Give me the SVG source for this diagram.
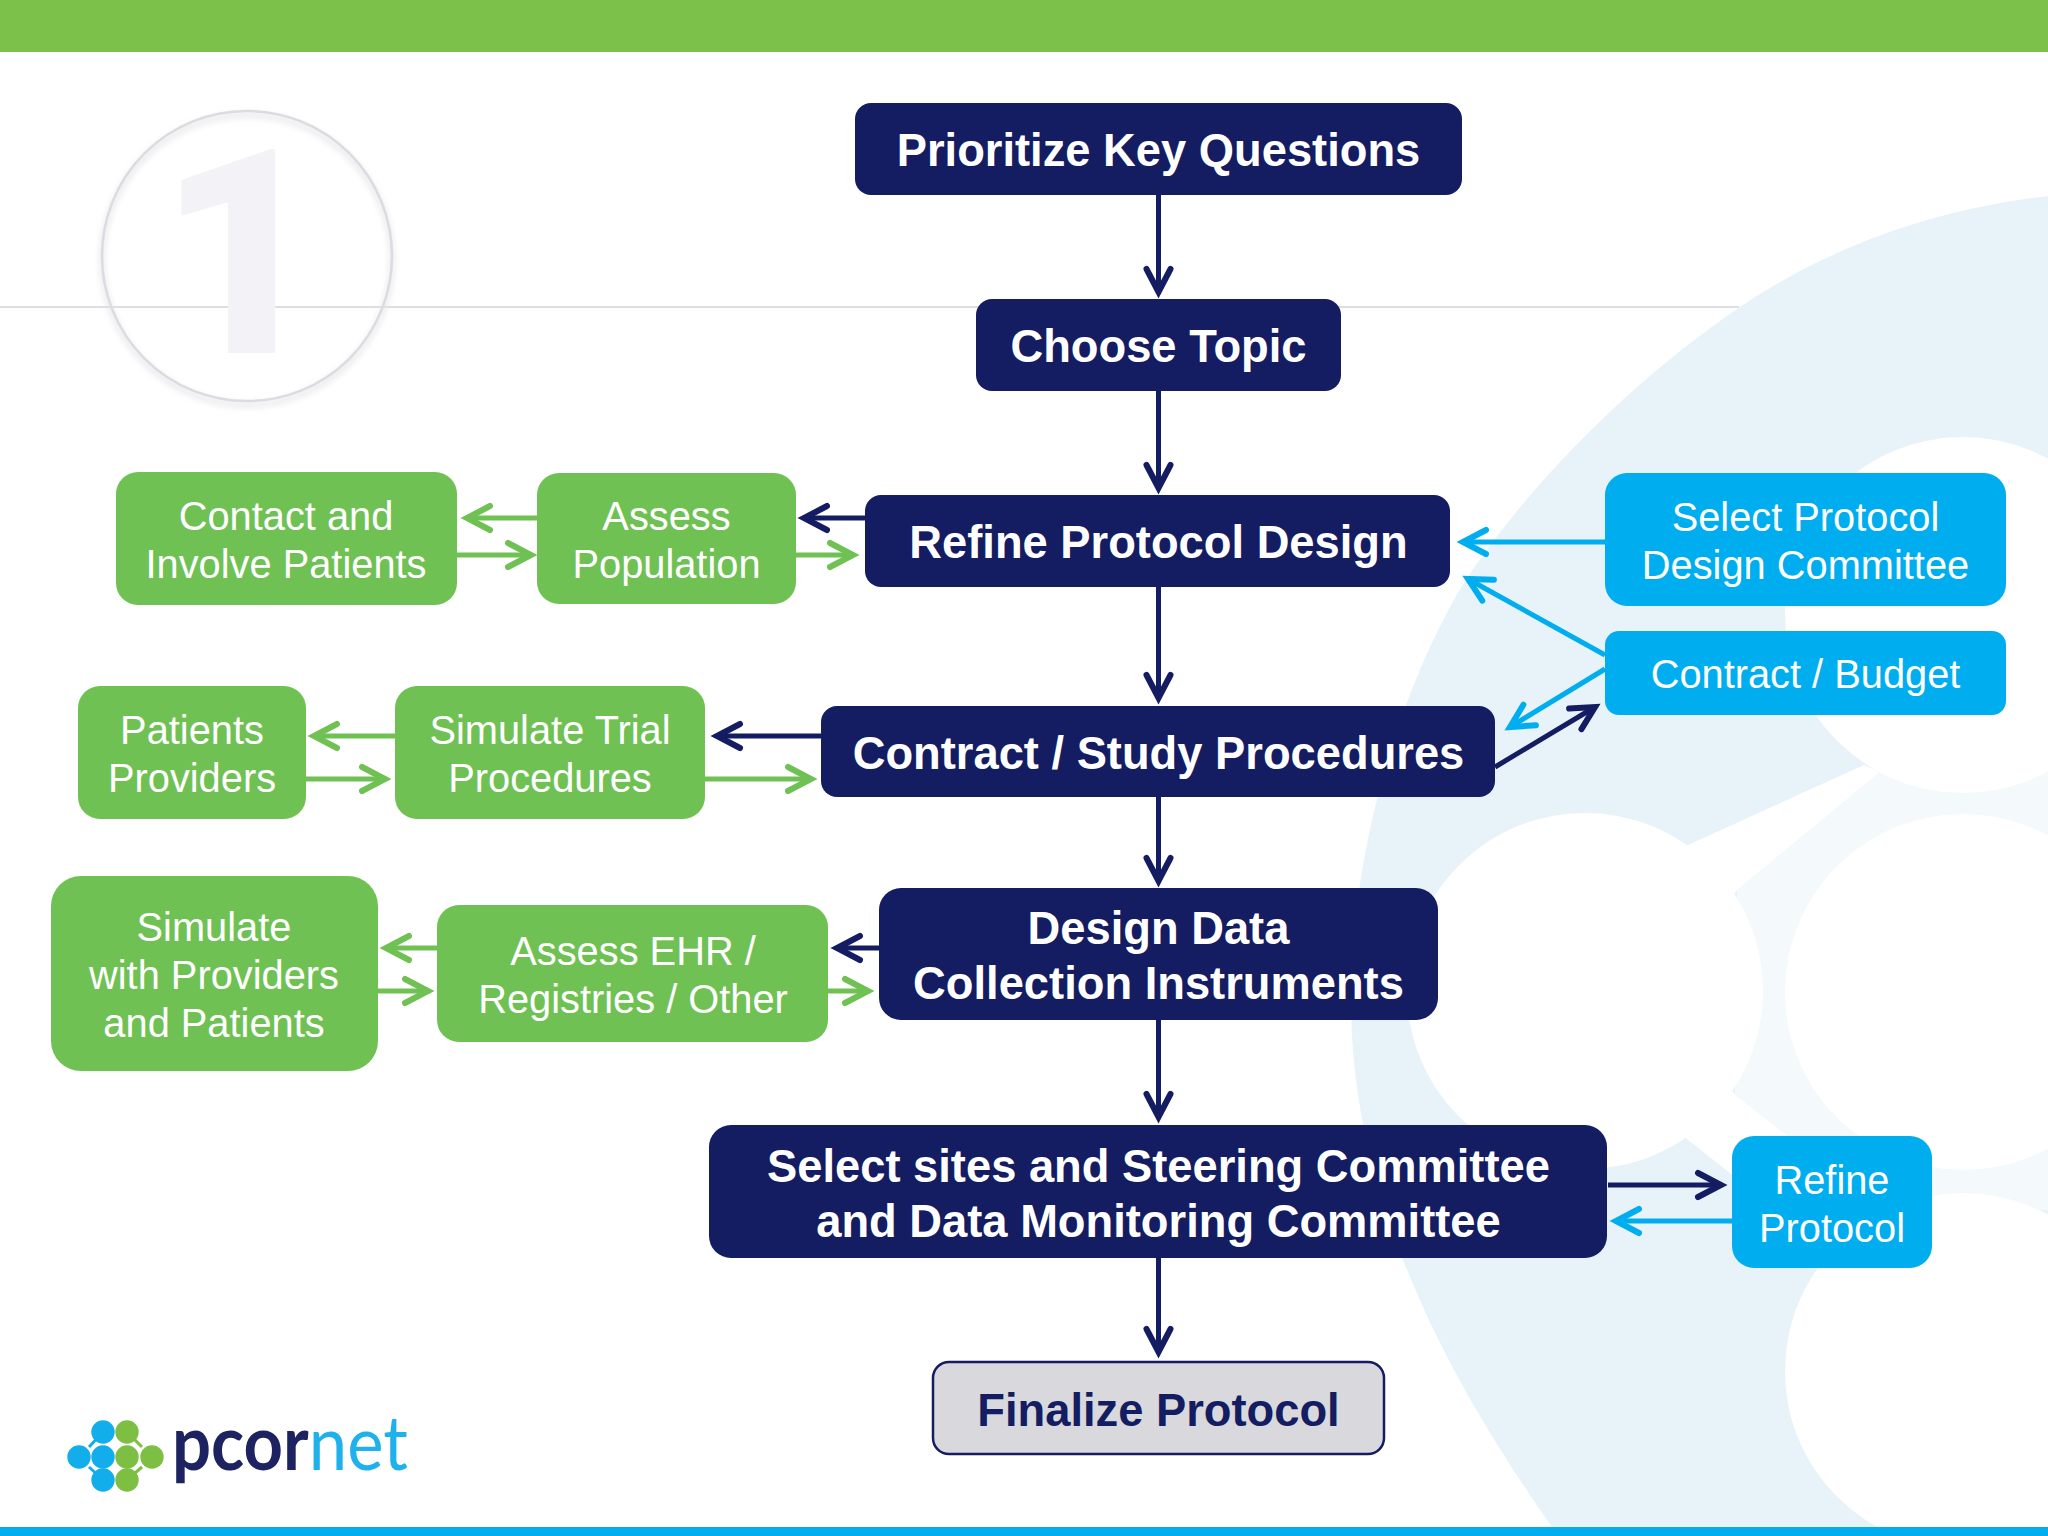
<svg xmlns="http://www.w3.org/2000/svg" width="2048" height="1536" viewBox="0 0 2048 1536">
<style>
.b{font-family:"Liberation Sans",Arial,sans-serif;font-weight:700;font-size:45.3px;fill:#fff;text-anchor:middle}
.r{font-family:"Liberation Sans",Arial,sans-serif;font-size:39.8px;fill:#fff;text-anchor:middle}
.navy{fill:#141c62}.green{fill:#70c154}.blue{fill:#00aeef}
.cn{fill:none;stroke:#141c62;stroke-width:5}.cg{fill:none;stroke:#70c154;stroke-width:5}.cb{fill:none;stroke:#00aeef;stroke-width:5}
.lb{fill:#12aeeb}.lg{fill:#7cbf42}
</style>
<defs>
<marker id="an" markerUnits="userSpaceOnUse" markerWidth="40" markerHeight="40" refX="0" refY="0" orient="auto" overflow="visible"><path d="M-23,-12 L0,0 L-23,12" fill="none" stroke="#141c62" stroke-width="6" stroke-linecap="round"/></marker>
<marker id="ag" markerUnits="userSpaceOnUse" markerWidth="40" markerHeight="40" refX="0" refY="0" orient="auto" overflow="visible"><path d="M-23,-12 L0,0 L-23,12" fill="none" stroke="#70c154" stroke-width="6" stroke-linecap="round"/></marker>
<marker id="ab" markerUnits="userSpaceOnUse" markerWidth="40" markerHeight="40" refX="0" refY="0" orient="auto" overflow="visible"><path d="M-23,-12 L0,0 L-23,12" fill="none" stroke="#00aeef" stroke-width="6" stroke-linecap="round"/></marker>
<filter id="bl" x="-10%" y="-10%" width="120%" height="120%"><feGaussianBlur stdDeviation="3"/></filter>
</defs>
<rect width="2048" height="1536" fill="#fff"/>
<g id="background">
<path d="M2048,196 C1940,208 1830,245 1737,309 C1640,375 1530,480 1462,586 C1400,690 1351,850 1351,1000 C1351,1170 1420,1340 1552,1527 L2048,1527 Z" fill="#e8f3f9"/>
<polygon points="1737,890 1880,772 2048,772 2048,1210 1880,1213 1735,1095" fill="#fff" fill-opacity=".5"/>
<g fill="#fff">
<circle cx="1585" cy="991" r="178"/>
<circle cx="1963" cy="615" r="178"/>
<circle cx="1963" cy="992" r="178"/>
<circle cx="1963" cy="1371" r="178"/>
<polygon points="1640,890 1688,845 1864,765 1880,772 1737,890 1690,960"/>
<polygon points="1690,1030 1735,1095 1870,1200 1830,1252 1688,1140 1640,1090"/>
</g>
</g>
<rect id="top-bar" width="2048" height="52" fill="#7cc24a"/>
<rect id="bottom-bar" y="1527" width="2048" height="9" fill="#00aeef"/>
<line id="rule" x1="0" y1="307" x2="1739" y2="307" stroke="#dedde2" stroke-width="2"/>
<g id="step-number">
<circle cx="247" cy="260" r="145" fill="none" stroke="#e2e1e6" stroke-width="4" filter="url(#bl)"/>
<circle cx="247" cy="256" r="145" fill="none" stroke="#dcdbe0" stroke-width="2.5"/>
<text x="158" y="353" font-family="Roboto,'Liberation Sans',sans-serif" font-weight="900" font-size="287" fill="#f3f2f6">1</text>
</g>
<g id="connectors">
<path class="cn" marker-end="url(#an)" d="M1158.5,195V292"/>
<path class="cn" marker-end="url(#an)" d="M1158.5,391V488"/>
<path class="cn" marker-end="url(#an)" d="M1158.5,587V698"/>
<path class="cn" marker-end="url(#an)" d="M1158.5,797V881"/>
<path class="cn" marker-end="url(#an)" d="M1158.5,1020V1117"/>
<path class="cn" marker-end="url(#an)" d="M1158.5,1258V1352"/>
<path class="cg" marker-end="url(#ag)" d="M537,518H467"/>
<path class="cg" marker-end="url(#ag)" d="M457,555H531"/>
<path class="cn" marker-end="url(#an)" d="M865,518H804"/>
<path class="cg" marker-end="url(#ag)" d="M796,555H853"/>
<path class="cb" marker-end="url(#ab)" d="M1605,542H1463"/>
<path class="cb" marker-end="url(#ab)" d="M1605,655L1468,579"/>
<path class="cb" marker-end="url(#ab)" d="M1605,669L1510,727"/>
<path class="cn" marker-end="url(#an)" d="M1495,767L1595,707"/>
<path class="cg" marker-end="url(#ag)" d="M395,736H314"/>
<path class="cg" marker-end="url(#ag)" d="M306,779H385"/>
<path class="cn" marker-end="url(#an)" d="M821,736H717"/>
<path class="cg" marker-end="url(#ag)" d="M705,779H811"/>
<path class="cg" marker-end="url(#ag)" d="M437,948H386"/>
<path class="cg" marker-end="url(#ag)" d="M378,991H428"/>
<path class="cn" marker-end="url(#an)" d="M879,948H837"/>
<path class="cg" marker-end="url(#ag)" d="M828,991H868"/>
<path class="cn" marker-end="url(#an)" d="M1608,1185H1721"/>
<path class="cb" marker-end="url(#ab)" d="M1732,1221H1616"/>
</g>
<g id="n-prioritize"><rect class="navy" x="855" y="103" width="607" height="92" rx="16"/><text class="b" x="1158.5" y="166">Prioritize Key Questions</text></g>
<g id="n-topic"><rect class="navy" x="976" y="299" width="365" height="92" rx="16"/><text class="b" x="1158.5" y="362">Choose Topic</text></g>
<g id="n-refine"><rect class="navy" x="865" y="495" width="585" height="92" rx="16"/><text class="b" x="1158.5" y="558">Refine Protocol Design</text></g>
<g id="n-contract"><rect class="navy" x="821" y="706" width="674" height="91" rx="16"/><text class="b" x="1158.5" y="769">Contract / Study Procedures</text></g>
<g id="n-design"><rect class="navy" x="879" y="888" width="559" height="132" rx="22"/><text class="b" x="1158.5" y="944">Design Data</text><text class="b" x="1158.5" y="999">Collection Instruments</text></g>
<g id="n-sites"><rect class="navy" x="709" y="1125" width="898" height="133" rx="22"/><text class="b" x="1158.5" y="1182">Select sites and Steering Committee</text><text class="b" x="1158.5" y="1237">and Data Monitoring Committee</text></g>
<g id="n-finalize"><rect x="933" y="1362" width="451" height="92" rx="16" fill="#d9d8dc" stroke="#141c62" stroke-width="2.5"/><text class="b" style="fill:#141c62" x="1158.5" y="1426">Finalize Protocol</text></g>
<g id="n-contact"><rect class="green" x="116" y="472" width="341" height="133" rx="22"/><text class="r" x="286" y="530">Contact and</text><text class="r" x="286" y="578">Involve Patients</text></g>
<g id="n-assess"><rect class="green" x="537" y="473" width="259" height="131" rx="22"/><text class="r" x="666.5" y="530">Assess</text><text class="r" x="666.5" y="578">Population</text></g>
<g id="n-patients"><rect class="green" x="78" y="686" width="228" height="133" rx="22"/><text class="r" x="192" y="744">Patients</text><text class="r" x="192" y="792">Providers</text></g>
<g id="n-simulate-trial"><rect class="green" x="395" y="686" width="310" height="133" rx="22"/><text class="r" x="550" y="744">Simulate Trial</text><text class="r" x="550" y="792">Procedures</text></g>
<g id="n-simulate"><rect class="green" x="51" y="876" width="327" height="195" rx="30"/><text class="r" x="214" y="941">Simulate</text><text class="r" x="214" y="989">with Providers</text><text class="r" x="214" y="1037">and Patients</text></g>
<g id="n-ehr"><rect class="green" x="437" y="905" width="391" height="137" rx="22"/><text class="r" x="633" y="965">Assess EHR /</text><text class="r" x="633" y="1013">Registries / Other</text></g>
<g id="n-select-protocol"><rect class="blue" x="1605" y="473" width="401" height="133" rx="22"/><text class="r" x="1805.5" y="531">Select Protocol</text><text class="r" x="1805.5" y="579">Design Committee</text></g>
<g id="n-budget"><rect class="blue" x="1605" y="631" width="401" height="84" rx="14"/><text class="r" x="1805.5" y="688">Contract / Budget</text></g>
<g id="n-refine-protocol"><rect class="blue" x="1732" y="1136" width="200" height="132" rx="22"/><text class="r" x="1832" y="1194">Refine</text><text class="r" x="1832" y="1242">Protocol</text></g>
<g id="logo">
<g fill="none" stroke-width="3"><path d="M89,1447L103,1432M89,1467L103,1480" stroke="#12aeeb"/><path d="M142,1447L127,1432M142,1467L127,1480" stroke="#7cbf42"/></g>
<circle class="lb" cx="103" cy="1432" r="11.7"/><circle class="lg" cx="127" cy="1432" r="11.7"/>
<circle class="lb" cx="79" cy="1457" r="11.7"/><circle class="lb" cx="103" cy="1457" r="11.7"/><circle class="lg" cx="127" cy="1457" r="11.7"/><circle class="lg" cx="152" cy="1457" r="11.7"/>
<circle class="lb" cx="103" cy="1480" r="11.7"/><circle class="lg" cx="127" cy="1480" r="11.7"/>
<text transform="translate(172,1470) scale(.905,1)" font-family="Lato,'Open Sans',sans-serif" font-size="76"><tspan fill="#1d2360" font-weight="700">pcor</tspan><tspan fill="#1fb1ec">net</tspan></text>
</g>
</svg>
